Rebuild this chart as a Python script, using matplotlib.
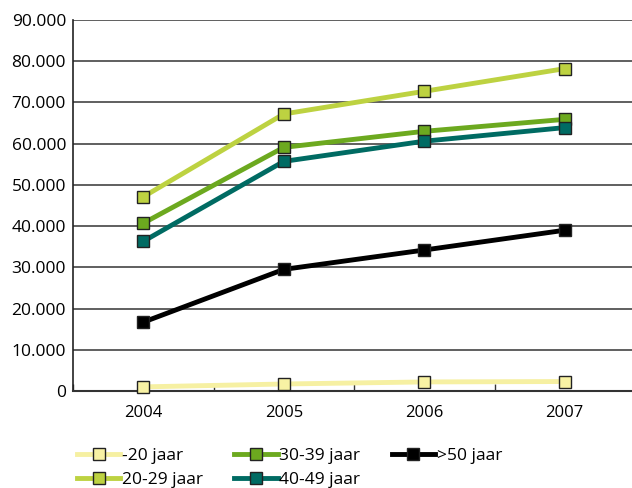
import numpy as np
import matplotlib
matplotlib.use('Agg')
import matplotlib.pyplot as plt
from matplotlib.ticker import FuncFormatter

plt.rcParams['font.family'] = ['Open Sans', 'DejaVu Sans']

years = ['2004', '2005', '2006', '2007']
labels = ['-20 jaar', '20-29 jaar', '30-39 jaar', '40-49 jaar', '>50 jaar']
v_u20 = [1000, 1700, 2200, 2300]
v_20_29 = [47100, 67200, 72700, 78200]
v_30_39 = [40700, 59100, 63000, 65900]
v_40_49 = [36300, 55700, 60600, 63900]
v_50 = [16700, 29500, 34200, 39000]
series = [v_u20, v_20_29, v_30_39, v_40_49, v_50]

line_colors = ['#f6f0a2', '#bdd241', '#6ca91f', '#006b63', '#000000']
face_colors = ['#f8f2a4', '#bdd241', '#6ca91f', '#006b63', '#000000']

fig = plt.figure(figsize=(6.32, 4.88), dpi=100)
ax = fig.add_axes([73 / 632, 1 - 391 / 488, 562 / 632, 371 / 488])

x = np.arange(len(years))
handles = []
for vals, lab, lc, fc in zip(series, labels, line_colors, face_colors):
    h, = ax.plot(x, vals, color=lc, lw=3.5, marker='s', markersize=8.5,
                 markerfacecolor=fc, markeredgecolor='#222222', markeredgewidth=1.0,
                 label=lab, zorder=3, clip_on=False)
    handles.append(h)

ax.set_xlim(-0.5, 3.5)
ax.set_ylim(0, 90000)
ax.set_yticks(np.arange(0, 90001, 10000))
ax.yaxis.set_major_formatter(FuncFormatter(
    lambda v, p: '0' if v == 0 else f'{int(v):,}'.replace(',', '.')))
ax.set_xticks(x)
ax.set_xticklabels(years)
ax.set_xticks(np.arange(-0.5, 3.6, 1), minor=True)
ax.tick_params(axis='x', which='major', length=0, labelsize=12, pad=10)
ax.tick_params(axis='x', which='minor', length=5, width=1, direction='in',
               color='#333333')
ax.tick_params(axis='y', length=0, labelsize=12.5, pad=5)

ax.grid(axis='y', color='#444444', lw=1.2)
ax.set_axisbelow(True)
for s in ['top', 'right']:
    ax.spines[s].set_visible(False)
ax.spines['left'].set_color('#222222')
ax.spines['bottom'].set_color('#333333')
ax.spines['left'].set_linewidth(1.2)
ax.spines['bottom'].set_linewidth(1.5)

fig.legend(handles=handles, loc='lower left', bbox_to_anchor=(70 / 632, -0.014),
           ncol=3, frameon=False, fontsize=12.5, handlelength=2.5,
           handletextpad=0.1, columnspacing=1.8, labelspacing=0.45,
           borderaxespad=0)

fig.savefig('out.png', dpi=100)
